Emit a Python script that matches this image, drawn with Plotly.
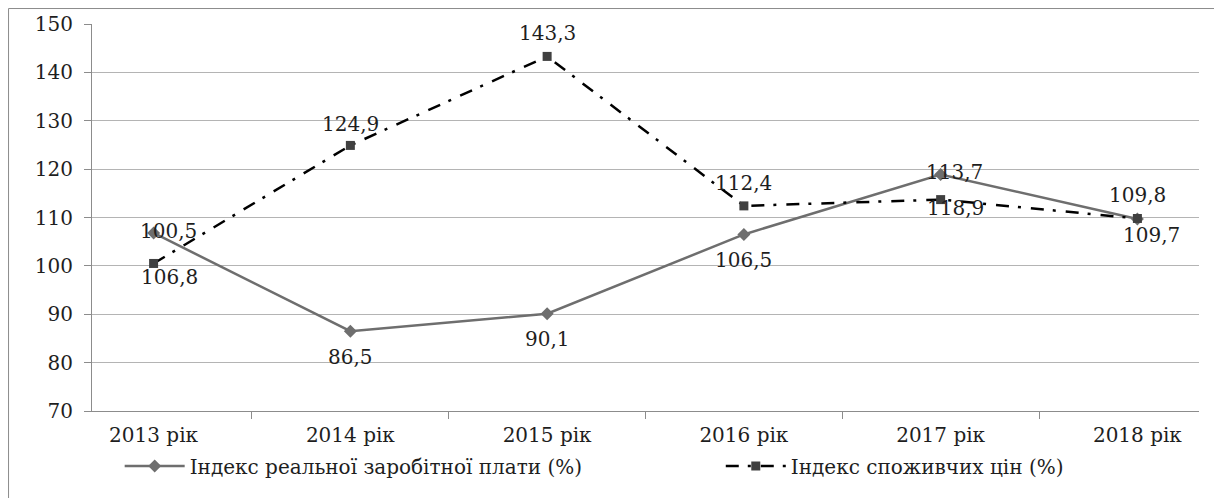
import plotly.graph_objects as go

categories = ["2013 рік", "2014 рік", "2015 рік", "2016 рік", "2017 рік", "2018 рік"]
wage_index = [106.8, 86.5, 90.1, 106.5, 118.9, 109.7]
cpi_index = [100.5, 124.9, 143.3, 112.4, 113.7, 109.8]
wage_name = "Індекс реальної заробітної плати (%)"
cpi_name = "Індекс споживчих цін (%)"
y_ticks = [70, 80, 90, 100, 110, 120, 130, 140, 150]

# label pixel offsets (dx, dy) relative to each point
wage_offsets = [(16, -44), (0, -26), (0, -25), (0, -26), (15, -34), (14, -16)]
cpi_offsets = [(15, 32), (0, 21), (0, 23), (0, 23), (14, 28), (0, 23)]

FONT = "DejaVu Serif"
TXT = "#1e1e1e"

def fmt(v):
    return f"{v:.1f}".replace(".", ",")

fig = go.Figure()
fig.add_trace(go.Scatter(
    x=categories, y=wage_index, name=wage_name, mode="lines+markers",
    line=dict(color="#6e6e6e", width=2.5),
    marker=dict(symbol="diamond", size=10, color="#6e6e6e"),
    legend="legend",
))
fig.add_trace(go.Scatter(
    x=categories, y=cpi_index, name=cpi_name, mode="lines+markers",
    line=dict(color="#000000", width=2.5, dash="13px,9px,3px,10px"),
    marker=dict(symbol="square", size=9, color="#404040"),
    legend="legend2",
))

annotations = []
for c, v, (dx, dy) in zip(categories, wage_index, wage_offsets):
    annotations.append(dict(x=c, y=v, text=fmt(v), showarrow=False, xshift=dx, yshift=dy,
                            font=dict(family=FONT, size=20, color=TXT)))
for c, v, (dx, dy) in zip(categories, cpi_index, cpi_offsets):
    annotations.append(dict(x=c, y=v, text=fmt(v), showarrow=False, xshift=dx, yshift=dy,
                            font=dict(family=FONT, size=20, color=TXT)))

legend_style = dict(orientation="h", xanchor="left", y=-0.142, yanchor="middle",
                    font=dict(family=FONT, size=20, color=TXT), itemwidth=60,
                    bgcolor="rgba(0,0,0,0)")

fig.update_layout(
    width=1222, height=498, autosize=False,
    margin=dict(l=84, r=31, t=16, b=95),
    paper_bgcolor="white", plot_bgcolor="white",
    font=dict(family=FONT, size=20, color=TXT),
    showlegend=True,
    legend=dict(x=0.025, **legend_style),
    legend2=dict(x=0.568, **legend_style),
    annotations=annotations,
    shapes=[dict(type="rect", xref="paper", yref="paper", x0=-0.0754, x1=1.05, y0=-0.3, y1=1.040,
                 line=dict(color="#8c8c8c", width=1), fillcolor="rgba(0,0,0,0)", layer="below")],
)
fig.update_xaxes(
    type="category", tickson="boundaries", ticks="outside", ticklen=7, tickcolor="#8c8c8c",
    showline=True, linecolor="#8c8c8c", linewidth=1, showgrid=False, ticklabelstandoff=6,
    tickfont=dict(family=FONT, size=20, color=TXT), automargin=False,
)
fig.update_yaxes(
    range=[70, 150], tickvals=y_ticks, ticks="outside", ticklen=7, tickcolor="#8c8c8c",
    showline=True, linecolor="#8c8c8c", linewidth=1, ticklabelstandoff=7,
    showgrid=True, gridcolor="#b4b4b4", gridwidth=1, zeroline=False,
    tickfont=dict(family=FONT, size=20, color=TXT), automargin=False,
)

fig.write_html("out.html")
